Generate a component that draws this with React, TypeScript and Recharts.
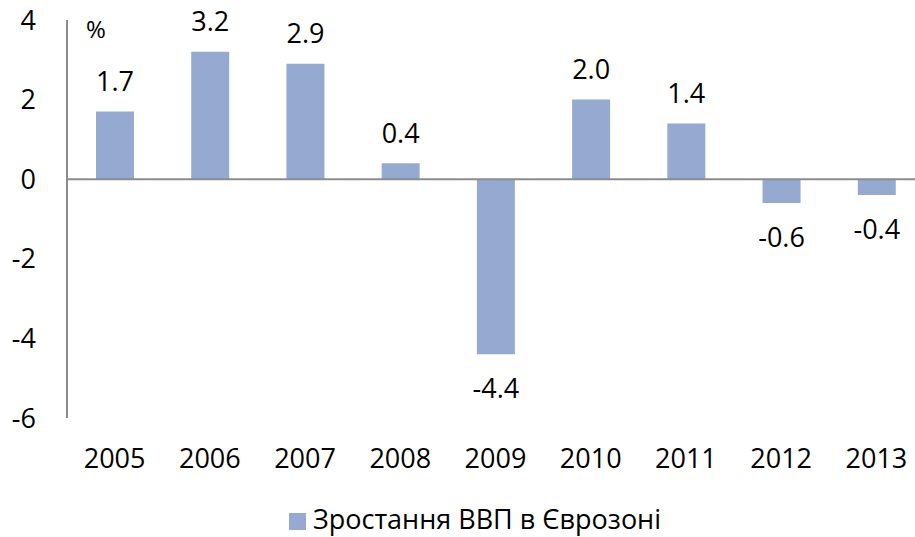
import { BarChart, Bar, XAxis, YAxis, Legend, ReferenceLine, LabelList } from "recharts";

const years = ["2005", "2006", "2007", "2008", "2009", "2010", "2011", "2012", "2013"];
const gdpGrowth = [1.7, 3.2, 2.9, 0.4, -4.4, 2.0, 1.4, -0.6, -0.4];
const yTicks = [-6, -4, -2, 0, 2, 4];
const seriesName = "Зростання ВВП в Єврозоні";

const FONT = "'Open Sans', sans-serif";
const FONT_SIZE = 27;
const BAR_COLOR = "#95a9d1";
const AXIS_COLOR = "#8c8c8c";

const chartData = years.map((year, i) => ({ year, value: gdpGrowth[i] }));

// value labels sit above positive bars and below negative ones
const renderValueLabel = (props: any) => {
  const { x, y, width, height, value } = props;
  const top = Math.min(y, y + height);
  const bottom = Math.max(y, y + height);
  const cy = value >= 0 ? top - 31 : bottom + 33;
  return (
    <text
      x={x + width / 2}
      y={cy}
      textAnchor="middle"
      dominantBaseline="central"
      fill="#000"
      fontSize={FONT_SIZE}
      fontFamily={FONT}
    >
      {Number(value).toFixed(1)}
    </text>
  );
};

export default function App() {
  return (
    <div style={{ position: "absolute", left: 0, top: 0, width: 915, height: 537, overflow: "hidden", background: "#fff" }}>
      <BarChart
        width={930}
        height={537}
        data={chartData}
        margin={{ top: 20, right: 6, bottom: 0, left: 0 }}
        barSize={38}
      >
        <XAxis
          dataKey="year"
          axisLine={false}
          tickLine={false}
          tickSize={0}
          tickMargin={31}
          height={85}
          tick={{ fill: "#000", fontSize: FONT_SIZE, fontFamily: FONT }}
        />
        <YAxis
          domain={[-6, 4]}
          ticks={yTicks}
          interval={0}
          width={67}
          axisLine={{ stroke: AXIS_COLOR, strokeWidth: 2 }}
          tickLine={false}
          tickSize={0}
          tickMargin={31}
          tick={{ fill: "#000", fontSize: FONT_SIZE, fontFamily: FONT }}
        />
        <ReferenceLine y={0} stroke={AXIS_COLOR} strokeWidth={2} />
        <Legend
          verticalAlign="bottom"
          iconType="square"
          iconSize={17}
          wrapperStyle={{ top: 502, left: 15, width: 930, fontFamily: FONT, fontSize: FONT_SIZE, lineHeight: "34px" }}
          formatter={(v: string) => <span style={{ color: "#000", marginLeft: 3 }}>{v}</span>}
        />
        <Bar dataKey="value" name={seriesName} fill={BAR_COLOR} isAnimationActive={false}>
          <LabelList dataKey="value" content={renderValueLabel} />
        </Bar>
      </BarChart>
      <div style={{ position: "absolute", left: 86, top: 12, fontFamily: FONT, fontSize: 24, color: "#000" }}>%</div>
    </div>
  );
}
